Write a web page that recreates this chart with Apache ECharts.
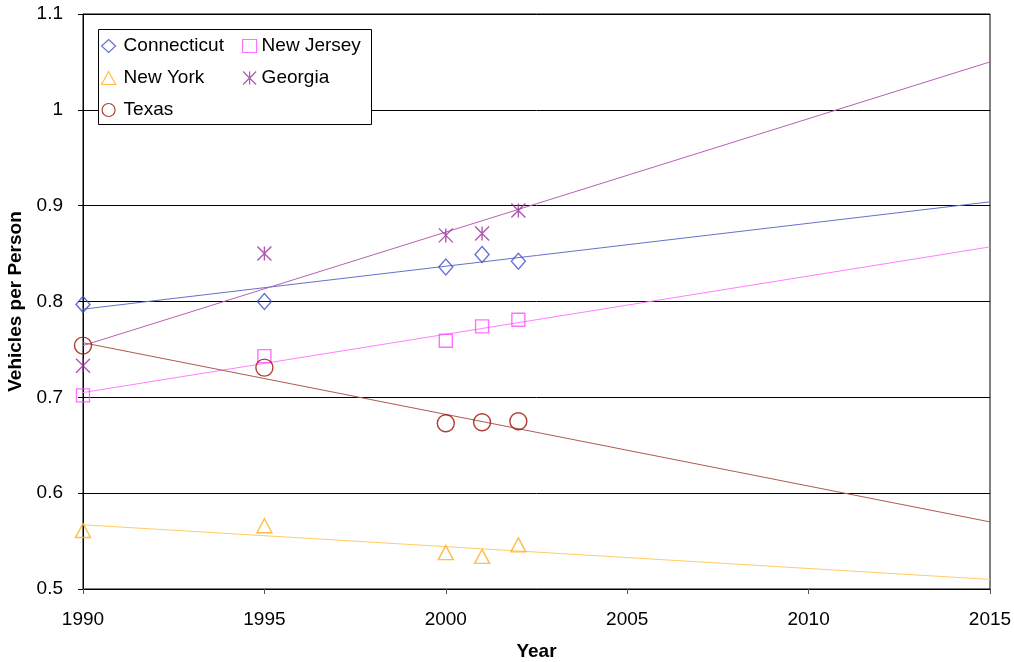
<!DOCTYPE html>
<html>
<head>
<meta charset="utf-8">
<script src="https://cdn.jsdelivr.net/npm/echarts@6/dist/echarts.min.js"></script>
<style>html,body{margin:0;padding:0;background:#fff}#c{width:1014px;height:662px}</style>
</head>
<body>
<div id="c"></div>
<script>
// Data
const years = [1990, 1995, 2000, 2001, 2002];
const connecticut = [0.797, 0.800, 0.836, 0.849, 0.842];
const newJersey   = [0.702, 0.743, 0.759, 0.774, 0.781];
const newYork     = [0.561, 0.566, 0.538, 0.534, 0.546];
const georgia     = [0.733, 0.850, 0.869, 0.871, 0.895];
const texas       = [0.754, 0.731, 0.673, 0.674, 0.675];

// Trendline endpoints (1990 and 2015)
const trendYears = [1990, 2015];
const connecticutTrend = [0.792, 0.904];
const newJerseyTrend   = [0.705, 0.857];
const newYorkTrend     = [0.567, 0.510];
const georgiaTrend     = [0.754, 1.050];
const texasTrend       = [0.757, 0.570];

const FONT = 'Liberation Sans, Arial, sans-serif';
const FS = 19;
const asterisk = 'path://M0,0L10,10M10,0L0,10M5,0L5,10';

function pts(xs, ys) { return xs.map((x, i) => [x, ys[i]]); }

const defs = [
  {name: 'Connecticut', data: connecticut, trend: connecticutTrend, symbol: 'diamond', size: [14, 16], mc: '#3f4fc4', lc: '#6670cc'},
  {name: 'New Jersey', data: newJersey, trend: newJerseyTrend, symbol: 'rect', size: 13, mc: '#ff4dff', lc: '#ff80ff'},
  {name: 'New York', data: newYork, trend: newYorkTrend, symbol: 'triangle', size: [15, 14], mc: '#ffad1f', lc: '#ffcc66'},
  {name: 'Georgia', data: georgia, trend: georgiaTrend, symbol: asterisk, size: 14, mc: '#9a2e9a', lc: '#b462b4'},
  {name: 'Texas', data: texas, trend: texasTrend, symbol: 'circle', size: 17, mc: '#9a1000', lc: '#b05a52'}
];

const series = [];
defs.forEach(d => {
  series.push({
    type: 'line', name: d.name + ' trend', data: pts(trendYears, d.trend),
    showSymbol: false, silent: true, z: 2,
    lineStyle: {color: d.lc, width: 1}, itemStyle: {color: d.lc}
  });
});
defs.forEach(d => {
  series.push({
    type: 'scatter', name: d.name, data: pts(years, d.data),
    symbol: d.symbol, symbolSize: d.size, z: 3,
    itemStyle: {color: 'rgba(255,255,255,0)', borderColor: d.mc, borderWidth: 1.4}
  });
});

function legendCfg(left, pad, data) {
  return {
    orient: 'vertical', padding: 0, itemWidth: 14, itemHeight: 13, itemGap: 12, z: 10,
    left: left, top: 36, data: data,
    textStyle: {fontFamily: FONT, fontSize: FS, color: '#000', lineHeight: 20, padding: [0, 0, 0, pad]},
    itemStyle: {color: 'rgba(255,255,255,0)', borderWidth: 1.2}
  };
}

const chart = echarts.init(document.getElementById('c'), null, {renderer: 'canvas'});
chart.setOption({
  animation: false,
  backgroundColor: '#fff',
  grid: {left: 83, right: 24, top: 14, bottom: 73, show: true, borderColor: '#000', borderWidth: 1,
    backgroundColor: 'transparent', containLabel: false, outerBoundsMode: 'none'},
  xAxis: {
    type: 'value', min: 1990, max: 2015, interval: 5,
    name: 'Year', nameLocation: 'middle', nameGap: 53,
    nameTextStyle: {fontFamily: FONT, fontSize: FS, fontWeight: 'bold', color: '#000'},
    axisLine: {show: true, lineStyle: {color: '#000', width: 1}},
    axisTick: {show: true, length: 5, lineStyle: {color: '#555'}},
    axisLabel: {fontFamily: FONT, fontSize: FS, color: '#000', margin: 21, showMaxLabel: true, showMinLabel: true,
      formatter: v => String(v)},
    splitLine: {show: false}
  },
  yAxis: {
    type: 'value', min: 0.5, max: 1.1, interval: 0.1,
    name: 'Vehicles per Person', nameLocation: 'middle', nameGap: 54,
    nameTextStyle: {fontFamily: FONT, fontSize: FS, fontWeight: 'bold', color: '#000'},
    axisLine: {show: true, lineStyle: {color: '#000', width: 1}},
    axisTick: {show: true, length: 5, lineStyle: {color: '#000'}},
    axisLabel: {fontFamily: FONT, fontSize: FS, color: '#000', margin: 20,
      formatter: v => String(Math.round(v * 10) / 10)},
    splitLine: {show: true, lineStyle: {color: '#000', width: 1}}
  },
  graphic: [{
    type: 'rect', z: 8, shape: {x: 98.5, y: 29.5, width: 273, height: 95},
    style: {fill: '#fff', stroke: '#000', lineWidth: 1}
  }],
  legend: [
    legendCfg(101, 3, ['Connecticut', 'New York', 'Texas']),
    legendCfg(242, 0, ['New Jersey', 'Georgia'])
  ],
  series: series
});
</script>
</body>
</html>
